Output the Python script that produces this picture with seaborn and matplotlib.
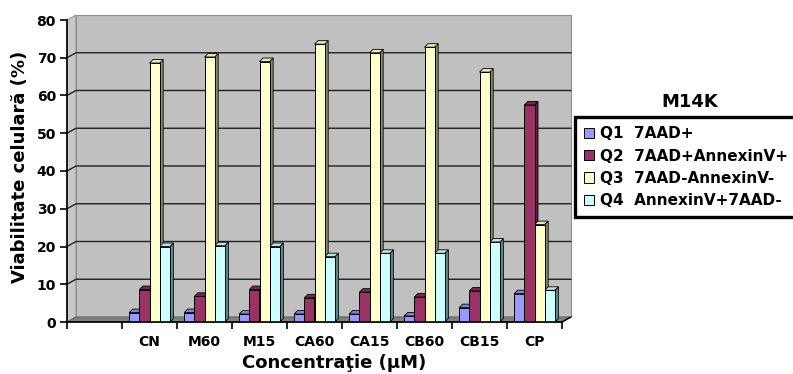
import numpy as np
import pandas as pd
import matplotlib
matplotlib.use("Agg")
import matplotlib.pyplot as plt
import seaborn as sns
from matplotlib.patches import Polygon

# Viability by condition, four flow-cytometry quadrants
categories = ["", "CN", "M60", "M15", "CA60", "CA15", "CB60", "CB15", "CP"]
series = ["Q1  7AAD+", "Q2  7AAD+AnnexinV+", "Q3  7AAD-AnnexinV-", "Q4  AnnexinV+7AAD-"]
q1 = [np.nan, 2.5, 2.5, 2.1, 2.1, 2.1, 1.6, 3.8, 7.5]
q2 = [np.nan, 8.6, 6.8, 8.6, 6.4, 7.9, 6.6, 8.2, 57.5]
q3 = [np.nan, 68.6, 70.2, 69.0, 73.6, 71.3, 72.8, 66.2, 25.8]
q4 = [np.nan, 20.0, 20.2, 20.0, 17.3, 18.2, 18.2, 21.2, 8.4]
yticks = [0, 10, 20, 30, 40, 50, 60, 70, 80]

face_colors = ["#9999ff", "#993366", "#ffffcc", "#ccffff"]
top_colors = ["#8080dd", "#7a2850", "#e6e6b8", "#b8e6e6"]
side_colors = ["#5c5c99", "#5c1f3d", "#8c8c6a", "#5f8a8a"]

rows = []
for name, vals in zip(series, [q1, q2, q3, q4]):
    for cat, v in zip(categories, vals):
        rows.append({"cat": cat, "series": name, "val": v})
df = pd.DataFrame(rows)

sns.set_style("white")
plt.rcParams["font.family"] = ["DejaVu Sans"]
plt.rcParams["font.weight"] = "bold"
plt.rcParams["text.color"] = "black"
plt.rcParams["xtick.color"] = "black"
plt.rcParams["ytick.color"] = "black"
plt.rcParams["xtick.labelcolor"] = "black"
plt.rcParams["ytick.labelcolor"] = "black"

W, H = 793, 374
fig = plt.figure(figsize=(W / 100, H / 100), dpi=100)
left_px, right_px, top_px, bot_px = 67, 562, 20, 322
ax = fig.add_axes([left_px / W, 1 - bot_px / H, (right_px - left_px) / W, (bot_px - top_px) / H])
ax.set_facecolor("none")

ncat = len(categories)
ax.set_xlim(-0.5, ncat - 0.5)
ax.set_ylim(0, 80)

# perspective offsets for walls and bar depth (data units)
px_x = 1.0 / 55.0
px_y = 80.0 / (bot_px - top_px)
wdx, wdy = 9 * px_x, 5 * px_y
bdx, bdy = 3.5 * px_x, 3.5 * px_y
x0, x1 = -0.5, ncat - 0.5

# side wall, back wall and floor
ax.add_patch(Polygon([(x0, 0), (x0, 80), (x0 + wdx, 80 + wdy), (x0 + wdx, wdy)],
                     closed=True, fc="#c8c8c8", ec="#909090", lw=0.8, zorder=0, clip_on=False))
ax.add_patch(Polygon([(x0 + wdx, wdy), (x0 + wdx, 80 + wdy), (x1 + wdx, 80 + wdy), (x1 + wdx, wdy)],
                     closed=True, fc="#c0c0c0", ec="#909090", lw=0.8, zorder=0, clip_on=False))
ax.add_patch(Polygon([(x0, 0), (x1, 0), (x1 + wdx, wdy), (x0 + wdx, wdy)],
                     closed=True, fc="#808080", ec="#606060", lw=0.8, zorder=0.5, clip_on=False))
for k in yticks[1:-1]:
    ax.plot([x0, x0 + wdx, x1 + wdx], [k, k + wdy, k + wdy], color="#202020", lw=1.0,
            zorder=0.6, clip_on=False)
ax.plot([x1, x1 + wdx], [0, wdy], color="black", lw=1.0, zorder=0.7, clip_on=False)

sns.barplot(data=df, x="cat", y="val", hue="series", order=categories, hue_order=series,
            palette=face_colors, saturation=1, width=0.74, edgecolor="black", linewidth=0.7,
            dodge=True, legend=True, ax=ax, zorder=3)

# depth faces behind each front face
for i, cont in enumerate(ax.containers):
    for p in cont.patches:
        h = p.get_height()
        if not np.isfinite(h) or h <= 0:
            continue
        x, w = p.get_x(), p.get_width()
        ax.add_patch(Polygon([(x + w, 0), (x + w + bdx, bdy), (x + w + bdx, h + bdy), (x + w, h)],
                             closed=True, fc=side_colors[i], ec="black", lw=0.6, zorder=2,
                             clip_on=False))
        ax.add_patch(Polygon([(x, h), (x + w, h), (x + w + bdx, h + bdy), (x + bdx, h + bdy)],
                             closed=True, fc=top_colors[i], ec="black", lw=0.6, zorder=2,
                             clip_on=False))

for s in ["top", "right"]:
    ax.spines[s].set_visible(False)
for s in ["left", "bottom"]:
    ax.spines[s].set_color("black")
    ax.spines[s].set_linewidth(1.2)
    ax.spines[s].set_zorder(4)

ax.set_yticks(yticks)
ax.set_yticklabels([str(v) for v in yticks], fontsize=10, fontweight="bold")
ax.set_xticks(np.arange(-0.5, ncat, 1.0))
ax.set_xticklabels([])
ax.set_xticks(np.arange(ncat), minor=True)
ax.set_xticklabels(categories, minor=True, fontsize=10, fontweight="bold")
ax.tick_params(axis="y", direction="out", length=5, width=1.2, color="black", pad=3, left=True)
ax.tick_params(axis="x", which="major", direction="out", length=5, width=1.2, color="black", bottom=True)
ax.tick_params(axis="x", which="minor", length=0, pad=9)
ax.set_xlabel("")
ax.set_ylabel("")
ax.grid(False)

fig.text(20 / W, 1 - 167 / H, "Viabilitate celulară (%)", rotation=90, ha="center", va="center",
         fontsize=13, fontweight="bold")
fig.text(334 / W, 1 - 363 / H, "Concentraţie (µM)", ha="center", va="center",
         fontsize=13, fontweight="bold")
fig.text(690 / W, 1 - 102 / H, "M14K", ha="center", va="center", fontsize=13, fontweight="bold")

sns.move_legend(ax, "upper left", bbox_to_anchor=(575 / W, 1 - 117 / H),
                bbox_transform=fig.transFigure, title=None, frameon=True, fancybox=False,
                framealpha=1, fontsize=11, handlelength=0.65, handleheight=0.65,
                handletextpad=0.35, labelspacing=0.47, borderpad=0.62, borderaxespad=0)
leg = ax.get_legend()
leg.get_frame().set_edgecolor("black")
leg.get_frame().set_linewidth(2.4)
for t in leg.get_texts():
    t.set_fontweight("bold")
    t.set_color("black")

fig.savefig("out.png", dpi=100, facecolor="white")
